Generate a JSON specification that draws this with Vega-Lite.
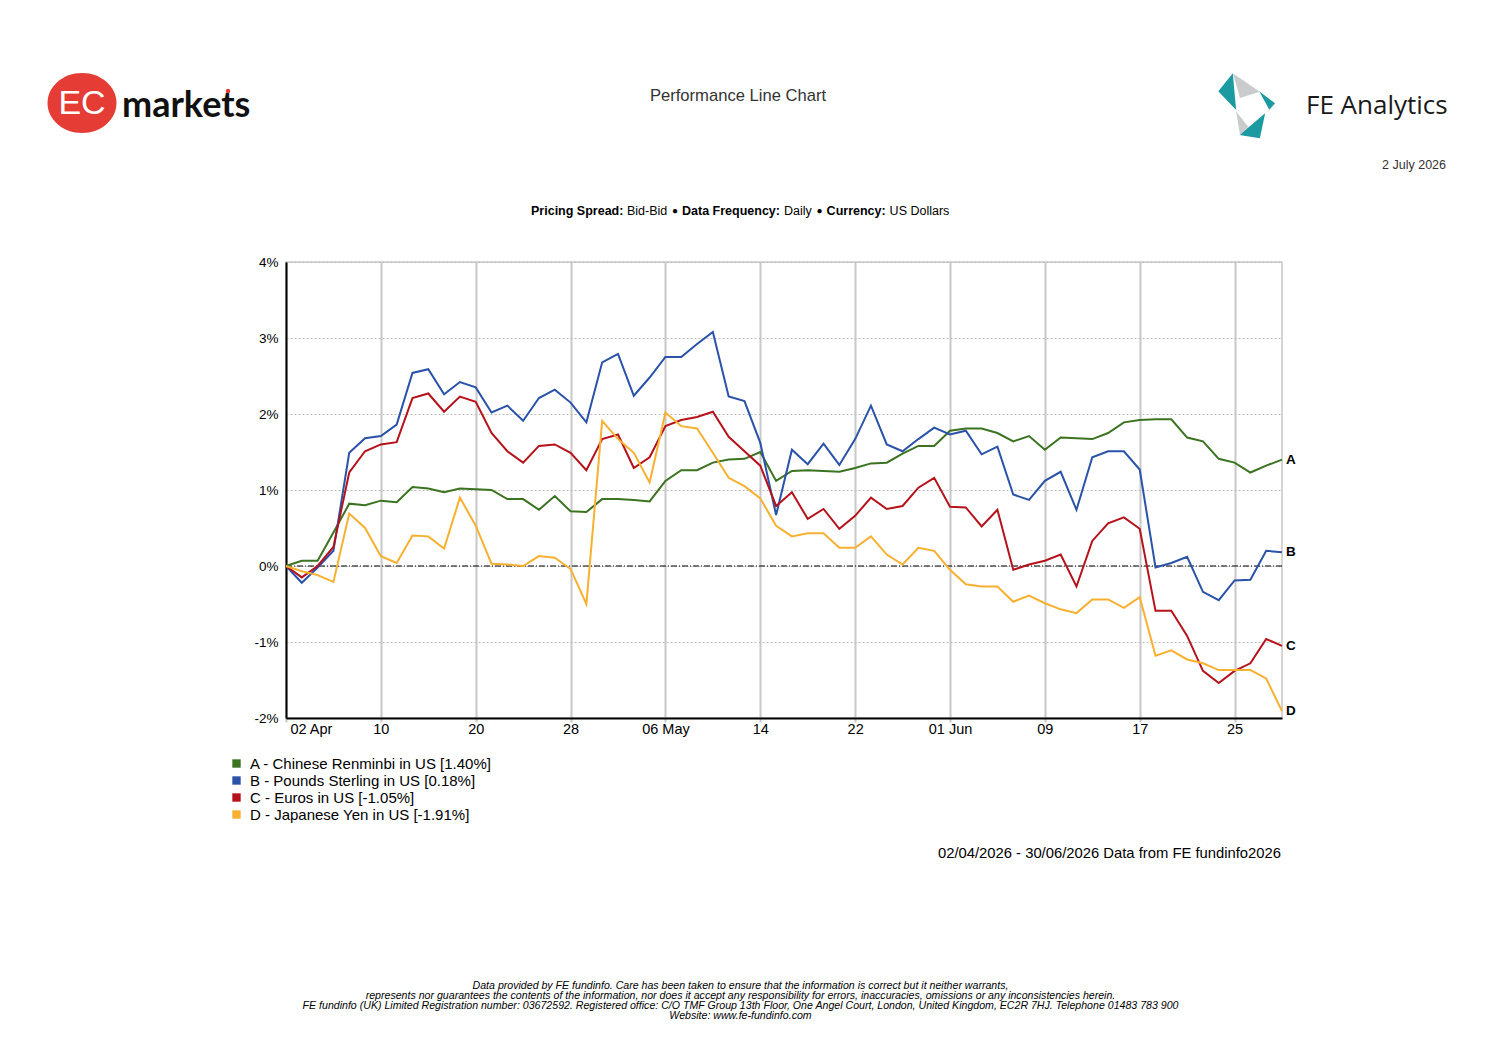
{
  "$schema": "https://vega.github.io/schema/vega-lite/v6.json",
  "width": 996,
  "height": 456,
  "autosize": {"type": "none"},
  "padding": {"left": 286, "top": 262, "right": 215, "bottom": 340},
  "background": "white",
  "config": {
    "font": "Liberation Sans",
    "view": {"stroke": "#c8c8c8", "strokeWidth": 1.5},
    "axis": {"labelFont": "Liberation Sans", "labelFontSize": 13.5, "labelColor": "#000000", "title": null}
  },
  "datasets": {
    "rates": [
      {"date": "2026-04-02", "A": 0.00, "B": 0.00, "C": 0.00, "D": 0.00},
      {"date": "2026-04-03", "A": 0.07, "B": -0.22, "C": -0.15, "D": -0.07},
      {"date": "2026-04-06", "A": 0.07, "B": -0.02, "C": 0.00, "D": -0.12},
      {"date": "2026-04-07", "A": 0.44, "B": 0.20, "C": 0.25, "D": -0.21},
      {"date": "2026-04-08", "A": 0.82, "B": 1.49, "C": 1.23, "D": 0.69},
      {"date": "2026-04-09", "A": 0.80, "B": 1.68, "C": 1.51, "D": 0.50},
      {"date": "2026-04-10", "A": 0.86, "B": 1.71, "C": 1.60, "D": 0.13},
      {"date": "2026-04-13", "A": 0.84, "B": 1.86, "C": 1.63, "D": 0.04},
      {"date": "2026-04-14", "A": 1.04, "B": 2.54, "C": 2.21, "D": 0.40},
      {"date": "2026-04-15", "A": 1.02, "B": 2.59, "C": 2.27, "D": 0.39},
      {"date": "2026-04-16", "A": 0.97, "B": 2.26, "C": 2.03, "D": 0.23},
      {"date": "2026-04-17", "A": 1.02, "B": 2.42, "C": 2.23, "D": 0.90},
      {"date": "2026-04-20", "A": 1.01, "B": 2.35, "C": 2.16, "D": 0.53},
      {"date": "2026-04-21", "A": 1.00, "B": 2.02, "C": 1.75, "D": 0.03},
      {"date": "2026-04-22", "A": 0.88, "B": 2.11, "C": 1.51, "D": 0.02},
      {"date": "2026-04-23", "A": 0.88, "B": 1.91, "C": 1.36, "D": 0.00},
      {"date": "2026-04-24", "A": 0.74, "B": 2.21, "C": 1.58, "D": 0.13},
      {"date": "2026-04-27", "A": 0.92, "B": 2.32, "C": 1.60, "D": 0.11},
      {"date": "2026-04-28", "A": 0.72, "B": 2.15, "C": 1.49, "D": -0.04},
      {"date": "2026-04-29", "A": 0.71, "B": 1.89, "C": 1.26, "D": -0.50},
      {"date": "2026-04-30", "A": 0.88, "B": 2.68, "C": 1.67, "D": 1.91},
      {"date": "2026-05-01", "A": 0.88, "B": 2.79, "C": 1.73, "D": 1.67},
      {"date": "2026-05-04", "A": 0.87, "B": 2.24, "C": 1.29, "D": 1.49},
      {"date": "2026-05-05", "A": 0.85, "B": 2.48, "C": 1.43, "D": 1.10},
      {"date": "2026-05-06", "A": 1.12, "B": 2.75, "C": 1.84, "D": 2.02},
      {"date": "2026-05-07", "A": 1.26, "B": 2.75, "C": 1.92, "D": 1.84},
      {"date": "2026-05-08", "A": 1.26, "B": 2.92, "C": 1.96, "D": 1.81},
      {"date": "2026-05-11", "A": 1.36, "B": 3.08, "C": 2.03, "D": 1.49},
      {"date": "2026-05-12", "A": 1.40, "B": 2.23, "C": 1.70, "D": 1.16},
      {"date": "2026-05-13", "A": 1.41, "B": 2.17, "C": 1.51, "D": 1.05},
      {"date": "2026-05-14", "A": 1.50, "B": 1.62, "C": 1.32, "D": 0.89},
      {"date": "2026-05-15", "A": 1.12, "B": 0.67, "C": 0.79, "D": 0.53},
      {"date": "2026-05-18", "A": 1.25, "B": 1.53, "C": 0.97, "D": 0.39},
      {"date": "2026-05-19", "A": 1.26, "B": 1.34, "C": 0.62, "D": 0.43},
      {"date": "2026-05-20", "A": 1.25, "B": 1.61, "C": 0.75, "D": 0.43},
      {"date": "2026-05-21", "A": 1.24, "B": 1.33, "C": 0.49, "D": 0.24},
      {"date": "2026-05-22", "A": 1.29, "B": 1.67, "C": 0.66, "D": 0.24},
      {"date": "2026-05-25", "A": 1.35, "B": 2.11, "C": 0.90, "D": 0.39},
      {"date": "2026-05-26", "A": 1.36, "B": 1.60, "C": 0.75, "D": 0.15},
      {"date": "2026-05-27", "A": 1.48, "B": 1.51, "C": 0.79, "D": 0.02},
      {"date": "2026-05-28", "A": 1.58, "B": 1.67, "C": 1.03, "D": 0.24},
      {"date": "2026-05-29", "A": 1.58, "B": 1.82, "C": 1.16, "D": 0.20},
      {"date": "2026-06-01", "A": 1.78, "B": 1.73, "C": 0.78, "D": -0.05},
      {"date": "2026-06-02", "A": 1.81, "B": 1.78, "C": 0.77, "D": -0.24},
      {"date": "2026-06-03", "A": 1.81, "B": 1.47, "C": 0.52, "D": -0.27},
      {"date": "2026-06-04", "A": 1.75, "B": 1.57, "C": 0.74, "D": -0.27},
      {"date": "2026-06-05", "A": 1.64, "B": 0.94, "C": -0.05, "D": -0.47},
      {"date": "2026-06-08", "A": 1.71, "B": 0.87, "C": 0.02, "D": -0.39},
      {"date": "2026-06-09", "A": 1.53, "B": 1.12, "C": 0.07, "D": -0.49},
      {"date": "2026-06-10", "A": 1.69, "B": 1.24, "C": 0.15, "D": -0.57},
      {"date": "2026-06-11", "A": 1.68, "B": 0.74, "C": -0.27, "D": -0.62},
      {"date": "2026-06-12", "A": 1.67, "B": 1.43, "C": 0.33, "D": -0.44},
      {"date": "2026-06-15", "A": 1.75, "B": 1.51, "C": 0.56, "D": -0.44},
      {"date": "2026-06-16", "A": 1.89, "B": 1.51, "C": 0.64, "D": -0.55},
      {"date": "2026-06-17", "A": 1.92, "B": 1.27, "C": 0.49, "D": -0.41},
      {"date": "2026-06-18", "A": 1.93, "B": -0.02, "C": -0.59, "D": -1.18},
      {"date": "2026-06-19", "A": 1.93, "B": 0.04, "C": -0.59, "D": -1.11},
      {"date": "2026-06-22", "A": 1.69, "B": 0.12, "C": -0.92, "D": -1.23},
      {"date": "2026-06-23", "A": 1.64, "B": -0.34, "C": -1.38, "D": -1.28},
      {"date": "2026-06-24", "A": 1.41, "B": -0.45, "C": -1.54, "D": -1.37},
      {"date": "2026-06-25", "A": 1.36, "B": -0.19, "C": -1.38, "D": -1.37},
      {"date": "2026-06-26", "A": 1.23, "B": -0.18, "C": -1.28, "D": -1.37},
      {"date": "2026-06-29", "A": 1.32, "B": 0.20, "C": -0.96, "D": -1.48},
      {"date": "2026-06-30", "A": 1.40, "B": 0.18, "C": -1.05, "D": -1.91}
    ]
  },
  "data": {"name": "rates"},
  "layer": [
    {
      "data": {"values": [{}]},
      "mark": {"type": "point", "shape": "M-1,0 A1,0.87 0 1,1 1,0 A1,0.87 0 1,1 -1,0 Z", "filled": true, "color": "#e53c36", "opacity": 1, "size": 4761, "x": -204, "y": -159},
      "encoding": {}
    },
    {
      "data": {"values": [{}]},
      "mark": {"type": "text", "text": "EC", "font": "Liberation Sans", "fontSize": 34, "color": "white", "align": "center", "baseline": "middle", "x": -204, "y": -158},
      "encoding": {}
    },
    {
      "data": {"values": [{}]},
      "mark": {"type": "text", "text": "markets", "font": "Lato", "fontWeight": "bold", "fontSize": 36, "color": "#111111", "align": "left", "baseline": "alphabetic", "x": -164, "y": -145},
      "encoding": {}
    },
    {
      "data": {"values": [{}]},
      "mark": {"type": "point", "shape": "circle", "filled": true, "color": "#e53c36", "opacity": 1, "size": 20, "x": -58, "y": -171},
      "encoding": {}
    },
    {
      "data": {"values": [{}]},
      "mark": {"type": "text", "text": "Performance Line Chart", "fontSize": 16.6, "color": "#333333", "align": "center", "baseline": "middle", "x": 452, "y": -166},
      "encoding": {}
    },
    {
      "data": {"values": [{}]},
      "mark": {"type": "point", "shape": "M-0.43,-0.96 L-0.87,-0.42 L-0.33,0.15 Z M0.37,-0.42 L0.85,-0.05 L0.68,0.15 Z M-0.23,0.91 L0.55,0.25 L0.39,1.01 Z", "filled": true, "color": "#1b9aa2", "opacity": 1, "size": 4356, "x": 961, "y": -157},
      "encoding": {}
    },
    {
      "data": {"values": [{}]},
      "mark": {"type": "point", "shape": "M-0.43,-0.96 L0.39,-0.4 L-0.21,-0.21 Z M-0.33,0.2 L0.04,0.66 L-0.21,0.91 Z M0.85,-0.05 L0.68,0.15 L0.55,0.26 Z", "filled": true, "color": "#c9cbcd", "opacity": 1, "size": 4356, "x": 961, "y": -157},
      "encoding": {}
    },
    {
      "data": {"values": [{}]},
      "mark": {"type": "rule", "color": "#333333", "strokeWidth": 1, "x": 1002, "y": -190, "y2": -124},
      "encoding": {}
    },
    {
      "data": {"values": [{}]},
      "mark": {"type": "text", "text": "FE Analytics", "font": "Open Sans", "fontSize": 26, "color": "#1a1a1a", "align": "left", "baseline": "alphabetic", "x": 1020, "y": -148.5},
      "encoding": {}
    },
    {
      "data": {"values": [{}]},
      "mark": {"type": "text", "text": "2 July 2026", "fontSize": 12.5, "color": "#333333", "align": "right", "baseline": "middle", "x": 1160, "y": -97},
      "encoding": {}
    },
    {
      "data": {"values": [{}]},
      "mark": {"type": "rule", "color": "#d4d4d4", "strokeWidth": 1, "x": -251, "x2": 1160, "y": -71},
      "encoding": {}
    },
    {
      "data": {"values": [{}]},
      "mark": {"type": "text", "text": "Pricing Spread:", "fontSize": 12.5, "fontWeight": "bold", "color": "#000000", "align": "left", "baseline": "middle", "x": 245, "y": -51},
      "encoding": {}
    },
    {
      "data": {"values": [{}]},
      "mark": {"type": "text", "text": "Bid-Bid", "fontSize": 12.5, "color": "#000000", "align": "left", "baseline": "middle", "x": 341, "y": -51},
      "encoding": {}
    },
    {
      "data": {"values": [{}]},
      "mark": {"type": "text", "text": "●", "fontSize": 10, "color": "#000000", "align": "center", "baseline": "middle", "x": 389, "y": -51},
      "encoding": {}
    },
    {
      "data": {"values": [{}]},
      "mark": {"type": "text", "text": "Data Frequency:", "fontSize": 12.5, "fontWeight": "bold", "color": "#000000", "align": "left", "baseline": "middle", "x": 396, "y": -51},
      "encoding": {}
    },
    {
      "data": {"values": [{}]},
      "mark": {"type": "text", "text": "Daily", "fontSize": 12.5, "color": "#000000", "align": "left", "baseline": "middle", "x": 498, "y": -51},
      "encoding": {}
    },
    {
      "data": {"values": [{}]},
      "mark": {"type": "text", "text": "●", "fontSize": 10, "color": "#000000", "align": "center", "baseline": "middle", "x": 533.5, "y": -51},
      "encoding": {}
    },
    {
      "data": {"values": [{}]},
      "mark": {"type": "text", "text": "Currency:", "fontSize": 12.5, "fontWeight": "bold", "color": "#000000", "align": "left", "baseline": "middle", "x": 540.6, "y": -51},
      "encoding": {}
    },
    {
      "data": {"values": [{}]},
      "mark": {"type": "text", "text": "US Dollars", "fontSize": 12.5, "color": "#000000", "align": "left", "baseline": "middle", "x": 603.6, "y": -51},
      "encoding": {}
    },
    {
      "data": {"values": [{}]},
      "mark": {"type": "text", "text": "02/04/2026 - 30/06/2026 Data from FE fundinfo2026", "fontSize": 14.8, "color": "#000000", "align": "right", "baseline": "middle", "x": 995, "y": 592},
      "encoding": {}
    },
    {
      "data": {"values": [{}]},
      "mark": {"type": "rule", "color": "#d4d4d4", "strokeWidth": 1, "x": -251, "x2": 1160, "y": 710},
      "encoding": {}
    },
    {
      "data": {"values": [{}]},
      "mark": {
        "type": "text",
        "text": [
          "Data provided by FE fundinfo. Care has been taken to ensure that the information is correct but it neither warrants,",
          "represents nor guarantees the contents of the information, nor does it accept any responsibility for errors, inaccuracies, omissions or any inconsistencies herein.",
          "FE fundinfo (UK) Limited Registration number: 03672592. Registered office: C/O TMF Group 13th Floor, One Angel Court, London, United Kingdom, EC2R 7HJ. Telephone 01483 783 900",
          "Website: www.fe-fundinfo.com"
        ],
        "fontSize": 10.6, "fontStyle": "italic", "lineHeight": 10, "color": "#000000", "align": "center", "baseline": "top", "x": 454.5, "y": 719
      },
      "encoding": {}
    },
    {
      "data": {"values": [{}]},
      "mark": {"type": "rule", "color": "#000000", "strokeWidth": 1, "strokeDash": [6, 2, 1, 2]},
      "encoding": {"y": {"datum": 0, "type": "quantitative"}}
    },
    {
      "transform": [{"fold": ["A", "B", "C", "D"], "as": ["code", "value"]}],
      "mark": {"type": "line", "strokeWidth": 2, "interpolate": "linear"},
      "encoding": {
        "x": {
          "field": "date",
          "type": "ordinal",
          "scale": {"type": "point", "padding": 0},
          "axis": {
            "values": ["2026-04-02", "2026-04-10", "2026-04-20", "2026-04-28", "2026-05-06", "2026-05-14", "2026-05-22", "2026-06-01", "2026-06-09", "2026-06-17", "2026-06-25"],
            "labelExpr": "timeFormat(toDate(datum.value + 'T00:00:00'), indexof(['2026-04-02', '2026-05-06', '2026-06-01'], datum.value) >= 0 ? '%d %b' : '%d')",
            "labelAngle": 0,
            "labelFontSize": 14.5,
            "labelPadding": 0,
            "labelFlush": true,
            "labelFlushOffset": -4,
            "grid": true,
            "gridColor": "#c8c8c8",
            "gridWidth": 2,
            "ticks": true,
            "tickColor": "#c8c8c8",
            "tickWidth": 2,
            "tickSize": 4,
            "domain": true,
            "domainColor": "#000000",
            "domainWidth": 2
          }
        },
        "y": {
          "field": "value",
          "type": "quantitative",
          "scale": {"domain": [-2, 4], "nice": false, "zero": false},
          "axis": {
            "values": [-2, -1, 0, 1, 2, 3, 4],
            "labelExpr": "datum.value + '%'",
            "labelPadding": 8,
            "ticks": false,
            "grid": true,
            "gridColor": "#bdbdbd",
            "gridDash": [2, 2],
            "gridWidth": 1,
            "domain": true,
            "domainColor": "#000000",
            "domainWidth": 2
          }
        },
        "color": {
          "field": "code",
          "type": "nominal",
          "scale": {"domain": ["A", "B", "C", "D"], "range": ["#3b7320", "#2a52a8", "#b5121b", "#f7b030"]},
          "legend": {
            "orient": "none",
            "legendX": -57,
            "legendY": 494,
            "title": null,
            "padding": 0,
            "symbolType": "square",
            "symbolSize": 70,
            "symbolStrokeWidth": 0,
            "labelFont": "Liberation Sans",
            "labelFontSize": 15,
            "labelColor": "#000000",
            "labelLimit": 400,
            "labelOffset": 6,
            "rowPadding": 1,
            "labelExpr": "datum.label == 'A' ? 'A - Chinese Renminbi in US [1.40%]' : datum.label == 'B' ? 'B - Pounds Sterling in US [0.18%]' : datum.label == 'C' ? 'C - Euros in US [-1.05%]' : 'D - Japanese Yen in US [-1.91%]'",
            "encode": {"symbols": {"update": {"fill": {"scale": "color", "field": "value"}, "opacity": {"value": 1}}}}
          }
        },
        "detail": {"field": "code"}
      }
    },
    {
      "transform": [
        {"fold": ["A", "B", "C", "D"], "as": ["code", "value"]},
        {"filter": "datum.date == '2026-06-30'"}
      ],
      "mark": {"type": "text", "font": "Liberation Sans", "fontSize": 13.5, "fontWeight": "bold", "color": "#000000", "align": "left", "baseline": "middle", "dx": 4},
      "encoding": {
        "x": {"field": "date", "type": "ordinal"},
        "y": {"field": "value", "type": "quantitative"},
        "text": {"field": "code"}
      }
    }
  ]
}
